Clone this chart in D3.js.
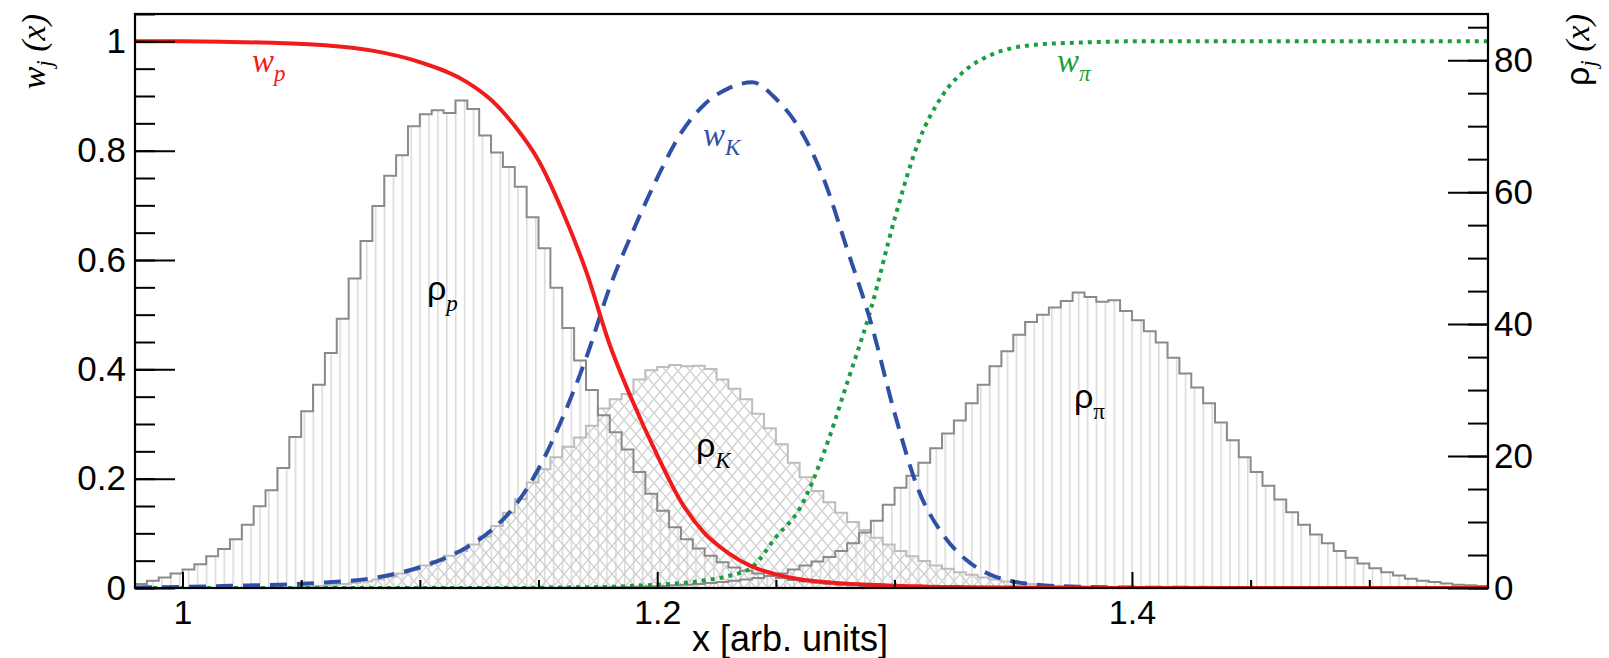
<!DOCTYPE html>
<html><head><meta charset="utf-8">
<script src="https://cdn.jsdelivr.net/npm/d3@7"></script>
<style>body{margin:0;background:#fff}svg{display:block}</style>
</head><body>
<svg id="chart" width="1609" height="658"></svg>
<script>
// ---------- data ----------
const binStart = 0.98;
const binWidth = 0.005;
// histogram contents, one value per bin (114 bins from 0.98 to 1.55)
const rhoP = [0.6,1.1,1.6,2.2,2.8,3.6,4.8,5.9,7.4,9.6,12.4,14.8,18.2,22.9,26.8,30.8,35.6,40.8,46.9,52.6,
  57.9,62.5,65.6,70.0,71.8,72.4,72.0,73.9,72.6,68.6,66.0,63.8,60.8,56.2,51.5,45.5,39.4,34.5,30.0,26.2,
  23.6,21.0,17.6,14.3,11.7,9.2,7.4,6.0,4.9,3.9,3.1,2.6,2.2,1.8,1.5,1.2,1.0,0.8,0.65,0.5,
  0.4,0.32,0.25,0.2,0.15,0.12,0.09,0.07,0.05,0.04,0.03,0.02,0.02,0.01,0,0,0,0,0,0,
  0,0,0,0,0,0,0,0,0,0,0,0,0,0,0,0,0,0,0,0,0,0,0,0,0,0,0,0,0,0,0,0,0,0];
const rhoK = [0,0,0,0,0,0,0,0,0,0,0,0,0,0.1,0.2,0.3,0.4,0.6,0.8,1.0,
  1.3,1.7,2.2,2.8,3.4,4.1,4.9,5.6,6.6,7.8,9.4,11.4,13.5,16.0,18.0,19.8,21.4,22.8,24.6,27.2,
  28.6,29.4,31.6,33.0,33.5,33.8,33.6,33.7,33.2,31.6,30.2,28.6,26.4,24.2,21.8,19.0,16.8,14.7,13.0,11.4,
  10.0,8.8,7.6,6.6,5.6,4.8,4.1,3.4,2.9,2.4,2.0,1.6,1.3,1.0,0.8,0.6,0.45,0.35,0.25,0.2,
  0.15,0.1,0.05,0,0,0,0,0,0,0,0,0,0,0,0,0,0,0,0,0,0,0,0,0,0,0,0,0,0,0,0,0,0,0];
const rhoPi = [0,0,0,0,0,0,0,0,0,0,0,0,0,0,0,0,0,0,0,0,
  0,0,0,0,0,0,0,0,0,0,0,0,0,0,0,0,0,0,0.05,0.08,
  0.1,0.15,0.2,0.25,0.32,0.4,0.5,0.62,0.75,0.9,1.1,1.3,1.5,1.8,2.2,2.8,3.4,4.0,4.7,5.6,
  6.8,8.4,10.2,12.6,15.2,17.0,19.0,21.2,23.4,25.4,28.0,30.8,33.6,35.9,38.4,40.3,41.4,42.5,43.5,44.8,
  44.1,43.4,43.6,42.0,40.6,38.9,37.2,34.9,32.5,30.4,28.0,25.1,22.4,19.8,17.6,15.5,13.4,11.5,9.6,8.1,
  6.8,5.6,4.6,3.7,3.0,2.4,1.9,1.4,1.1,0.9,0.7,0.5,0.4,0.3];
// weight curves, sampled
const wX  = [0.98,1.00,1.02,1.04,1.06,1.08,1.10,1.12,1.13,1.14,1.15,1.16,1.17,1.18,1.19,1.20,1.21,1.22,1.23,1.24,
  1.25,1.26,1.27,1.28,1.29,1.30,1.31,1.32,1.33,1.34,1.35,1.36,1.38,1.40,1.45,1.50,1.55];
const wP  = [1.0,1.0,0.999,0.997,0.993,0.983,0.962,0.925,0.893,0.845,0.782,0.69,0.58,0.445,0.338,0.243,0.158,0.10,0.064,0.039,
  0.025,0.016,0.011,0.008,0.006,0.004,0.003,0.002,0.0015,0.001,0.0008,0.0005,0.0003,0.0001,0,0,0];
const wK  = [0.001,0.002,0.004,0.006,0.010,0.018,0.038,0.075,0.105,0.150,0.218,0.31,0.42,0.55,0.655,0.75,0.832,0.885,0.914,0.925,
  0.895,0.84,0.75,0.62,0.486,0.32,0.18,0.10,0.052,0.025,0.012,0.006,0.002,0.0008,0.0001,0,0];
const wPi = [0,0,0,0,0,0,0,0,0,0,0.0005,0.001,0.0015,0.002,0.004,0.006,0.009,0.014,0.022,0.038,
  0.093,0.145,0.245,0.375,0.51,0.675,0.815,0.90,0.948,0.974,0.988,0.994,0.998,1.0,1.0,1.0,1.0];
// ticks
const xMajor = [1.0,1.2,1.4];
const xMinor = [1.05,1.1,1.15,1.25,1.3,1.35,1.45,1.5];
const yLMajor = [0,0.2,0.4,0.6,0.8,1.0];
const yRMajor = [0,20,40,60,80];

// ---------- chart ----------
const svg = d3.select("#chart");
const L = 135, R = 1488, T = 14, B = 588;
const x = d3.scaleLinear().domain([0.98,1.55]).range([L,R]);
const yL = d3.scaleLinear().domain([0,1.05]).range([B,T]);
const yR = d3.scaleLinear().domain([0,87]).range([B,T]);

const defs = svg.append("defs");
defs.append("clipPath").attr("id","clip").append("rect")
  .attr("x",L).attr("y",T).attr("width",R-L).attr("height",B-T);
const pv = defs.append("pattern").attr("id","vhatch").attr("patternUnits","userSpaceOnUse")
  .attr("x",1).attr("y",0).attr("width",8.9).attr("height",20);
pv.append("line").attr("x1",0.8).attr("x2",0.8).attr("y1",0).attr("y2",20)
  .attr("stroke","#d6d6d6").attr("stroke-width",1.4);
const pc = defs.append("pattern").attr("id","xhatch").attr("patternUnits","userSpaceOnUse")
  .attr("width",12).attr("height",14);
pc.append("path").attr("d","M0,0L12,14M12,0L0,14M-6,7L6,21M6,-7L18,7M18,7L6,21M6,-7L-6,7")
  .attr("stroke","#cfcfcf").attr("stroke-width",1.3).attr("fill","none");

const plot = svg.append("g").attr("clip-path","url(#clip)");

function histPoints(vals){
  const pts = vals.map((v,i)=>({e: binStart + i*binWidth, v}));
  pts.push({e: binStart + vals.length*binWidth, v: vals[vals.length-1]});
  return pts;
}
const area = d3.area().curve(d3.curveStepAfter).x(d=>x(d.e)).y0(yR(0)).y1(d=>yR(d.v));
const outline = d3.line().curve(d3.curveStepAfter).x(d=>x(d.e)).y(d=>yR(d.v));

// fills
plot.append("path").attr("d",area(histPoints(rhoP))).attr("fill","url(#vhatch)");
plot.append("path").attr("d",area(histPoints(rhoPi))).attr("fill","url(#vhatch)");
plot.append("path").attr("d",area(histPoints(rhoK))).attr("fill","url(#xhatch)");
// outlines
plot.append("path").attr("d",outline(histPoints(rhoK))).attr("fill","none").attr("stroke","#bdbdbd").attr("stroke-width",2);
plot.append("path").attr("d",outline(histPoints(rhoP))).attr("fill","none").attr("stroke","#8a8a8a").attr("stroke-width",2);
plot.append("path").attr("d",outline(histPoints(rhoPi))).attr("fill","none").attr("stroke","#8a8a8a").attr("stroke-width",2);

// weight curves
const wline = arr => d3.line().curve(d3.curveMonotoneX).x((d,i)=>x(wX[i])).y(d=>yL(d))(arr);
plot.append("path").attr("d",wline(wPi)).attr("fill","none").attr("stroke","#1a9e3f")
  .attr("stroke-width",4).attr("stroke-dasharray","4 5");
plot.append("path").attr("d",wline(wK)).attr("fill","none").attr("stroke","#2e51a6")
  .attr("stroke-width",4).attr("stroke-dasharray","17 10");
plot.append("path").attr("d",wline(wP)).attr("fill","none").attr("stroke","#f21b1b")
  .attr("stroke-width",4);

// axes
function styleAxis(g, size){
  g.select(".domain").remove();
  g.selectAll(".tick line").attr("stroke","#000").attr("stroke-width",2);
  g.selectAll(".tick text").attr("font-family","'Liberation Sans', Arial, sans-serif")
    .attr("font-size",size).attr("fill","#000");
}
const gL = svg.append("g").attr("transform",`translate(${L},0)`)
  .call(d3.axisLeft(yL).tickValues(yLMajor).tickSize(-40).tickPadding(9).tickFormat(d3.format("~g")));
styleAxis(gL, 35);
const gLm = svg.append("g").attr("transform",`translate(${L},0)`)
  .call(d3.axisLeft(yL).ticks(21).tickSize(-20).tickFormat(""));
styleAxis(gLm, 10);
const gR = svg.append("g").attr("transform",`translate(${R},0)`)
  .call(d3.axisRight(yR).tickValues(yRMajor).tickSize(-40).tickPadding(6));
styleAxis(gR, 35);
const gRm = svg.append("g").attr("transform",`translate(${R},0)`)
  .call(d3.axisRight(yR).tickValues(d3.range(0,86,5)).tickSize(-20).tickFormat(""));
styleAxis(gRm, 10);
const gB = svg.append("g").attr("transform",`translate(0,${B})`)
  .call(d3.axisBottom(x).tickValues(xMajor).tickSize(-16).tickPadding(12).tickFormat(d3.format("~g")));
styleAxis(gB, 34);
gB.selectAll(".tick text").attr("dy","0.71em");
const gBm = svg.append("g").attr("transform",`translate(0,${B})`)
  .call(d3.axisBottom(x).tickValues(xMinor).tickSize(-8).tickFormat(""));
styleAxis(gBm, 10);

// frame
svg.append("rect").attr("x",L).attr("y",T).attr("width",R-L).attr("height",B-T)
  .attr("fill","none").attr("stroke","#000").attr("stroke-width",2.2);

// titles
const serif = "'Liberation Serif', 'Times New Roman', serif";
const sans = "'Liberation Sans', Arial, sans-serif";
svg.append("text").attr("x",790).attr("y",651).attr("text-anchor","middle")
  .attr("font-family",sans).attr("font-size",36).text("x [arb. units]");

const tl = svg.append("text").attr("transform",`translate(45,${T}) rotate(-90)`).attr("text-anchor","end")
  .attr("font-family",serif).attr("font-style","italic").attr("font-size",34);
tl.append("tspan").text("w");
tl.append("tspan").attr("font-size",23).attr("dy",7).text("j");
tl.append("tspan").attr("dy",-7).text(" (x)");

const tr = svg.append("text").attr("transform",`translate(1589,${T}) rotate(-90)`).attr("text-anchor","end")
  .attr("font-size",34);
tr.append("tspan").attr("font-family",sans).text("ρ");
tr.append("tspan").attr("font-family",serif).attr("font-style","italic").attr("font-size",23).attr("dy",7).text("j");
tr.append("tspan").attr("font-family",serif).attr("font-style","italic").attr("dy",-7).text(" (x)");

// curve labels
function wLabel(xp, yp, sub, color){
  const t = svg.append("text").attr("x",xp).attr("y",yp).attr("fill",color)
    .attr("font-family",serif).attr("font-style","italic").attr("font-size",33);
  t.append("tspan").text("w");
  t.append("tspan").attr("font-size",23).attr("dy",9).text(sub);
}
wLabel(252, 72, "p", "#f21b1b");
wLabel(703, 146, "K", "#2e51a6");
wLabel(1057, 72, "π", "#1a9e3f");

function rLabel(xp, yp, sub, subItalic){
  const t = svg.append("text").attr("x",xp).attr("y",yp).attr("fill","#000").attr("font-size",34);
  t.append("tspan").attr("font-family",sans).text("ρ");
  const s = t.append("tspan").attr("font-size",23).attr("dy",11).text(sub);
  if (subItalic) s.attr("font-family",serif).attr("font-style","italic");
  else s.attr("font-family",serif);
}
rLabel(427, 300, "p", true);
rLabel(696, 457, "K", true);
rLabel(1074, 408, "π", false);
</script>
</body></html>
